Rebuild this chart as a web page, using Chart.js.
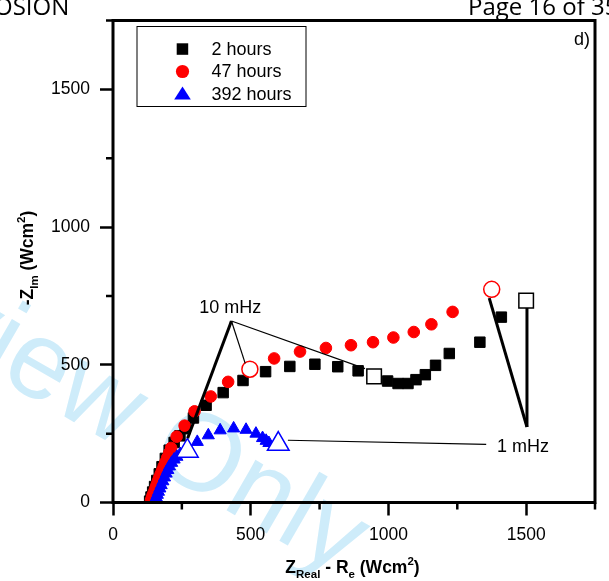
<!DOCTYPE html>
<html>
<head>
<meta charset="utf-8">
<script src="https://cdn.jsdelivr.net/npm/chart.js@4.4.1/dist/chart.umd.min.js"></script>
<style>
  html, body { margin: 0; padding: 0; background: #fff; }
  #wrap { width: 609px; height: 581px; }
</style>
</head>
<body>
<div id="wrap"><canvas id="nyquistChart" width="609" height="581"></canvas></div>
<script>
// axis ticks
const xTickValues = [0, 500, 1000, 1500];
const yTickValues = [0, 500, 1000, 1500];
const minorTickValues = [250, 750, 1250, 1750];

const seriesLabels = ['2 hours', '47 hours', '392 hours'];

// 2 hours (black squares)
const hours2X = [133, 138, 144, 151, 159, 168, 178, 190, 204, 222, 243, 262, 292, 338, 400, 472, 554, 642, 733, 816, 890, 948, 997, 1035, 1071, 1100, 1134, 1171, 1221, 1332, 1410, 1500];
const hours2Y = [5, 20, 38, 58, 80, 104, 130, 160, 190, 218, 242, 268, 307, 353, 399, 443, 475, 494, 502, 493, 478, 458, 441, 432, 432, 446, 464, 498, 541, 582, 673, 733];
const hours2Open = [21, 31];

// 47 hours (red circles)
const hours47X = [138, 141, 144, 148, 152, 156, 160, 164, 168, 173, 178, 184, 190, 197, 204, 211, 231, 260, 296, 355, 418, 497, 585, 679, 773, 864, 944, 1018, 1092, 1156, 1233, 1375];
const hours47Y = [8, 17, 26, 36, 47, 58, 69, 80, 91, 103, 116, 131, 146, 163, 180, 198, 239, 279, 331, 385, 438, 484, 523, 548, 561, 571, 582, 599, 619, 647, 692, 774];
const hours47Open = [21, 31];

// 392 hours (blue triangles)
const hours392X = [150, 153, 157, 161, 165, 170, 175, 181, 187, 193, 199, 205, 213, 222, 232, 244, 270, 306, 346, 389, 438, 483, 519, 543, 556, 566, 600];
const hours392Y = [3, 10, 18, 28, 39, 51, 63, 77, 91, 105, 118, 131, 144, 156, 166, 176, 187, 220, 244, 262, 269, 264, 250, 234, 224, 216, 212];
const hours392Open = [16, 26];

// leader lines for the frequency labels
const leaderTenThickX = [430, 271],   leaderTenThickY = [659, 233];
const leaderTenCircleX = [430, 480],  leaderTenCircleY = [659, 505];
const leaderTenSquareX = [430, 915],  leaderTenSquareY = [659, 486];
const leaderOneTriX = [635, 1355],    leaderOneTriY = [226, 211];
const leaderOneCircleX = [1366, 1503], leaderOneCircleY = [742, 274];
const leaderOneSquareX = [1503, 1503], leaderOneSquareY = [706, 274];

const FONT = '"Liberation Sans", Arial, Helvetica, sans-serif';

function toPoints(xs, ys) {
    return xs.map(function(x, i) { return { x: x, y: ys[i] }; });
}

function markerSeries(label, xs, ys, openIdx, style, color, r, rOpen, order) {
    return {
        label: label,
        data: toPoints(xs, ys),
        showLine: false,
        pointStyle: style,
        pointRadius: xs.map(function(_, i) { return openIdx.includes(i) ? rOpen : r; }),
        pointHoverRadius: xs.map(function(_, i) { return openIdx.includes(i) ? rOpen : r; }),
        pointBackgroundColor: xs.map(function(_, i) { return openIdx.includes(i) ? '#ffffff' : color; }),
        pointBorderColor: color,
        pointBorderWidth: xs.map(function(_, i) { return openIdx.includes(i) ? 1.5 : 1; }),
        clip: 0,
        order: order
    };
}

function leader(xs, ys, width) {
    return {
        label: '',
        data: toPoints(xs, ys),
        showLine: true,
        borderColor: '#000',
        borderWidth: width,
        pointRadius: 0,
        fill: false,
        order: 1
    };
}

// rich text with sub/superscripts
function drawRich(ctx, parts, size, smallSize) {
    const big = 'bold ' + size + 'px ' + FONT;
    const small = 'bold ' + smallSize + 'px ' + FONT;
    let total = 0;
    parts.forEach(function(p) {
        ctx.font = p[1] ? small : big;
        total += ctx.measureText(p[0]).width;
    });
    let x = -total / 2;
    ctx.textAlign = 'left';
    ctx.textBaseline = 'alphabetic';
    parts.forEach(function(p) {
        ctx.font = p[1] ? small : big;
        const dy = p[1] === 1 ? 5 : (p[1] === 2 ? -8 : 0);
        ctx.fillText(p[0], x, dy);
        x += ctx.measureText(p[0]).width;
    });
}

const pagePlugin = {
    id: 'pagePlugin',
    beforeDraw: function(chart) {
        const ctx = chart.ctx;
        ctx.save();
        ctx.fillStyle = '#fff';
        ctx.fillRect(0, 0, chart.width, chart.height);
        // watermark
        ctx.translate(-193, 268);
        ctx.rotate(30 * Math.PI / 180);
        ctx.font = '110px ' + FONT;
        ctx.fillStyle = 'rgb(206,236,250)';
        ctx.textBaseline = 'alphabetic';
        ctx.fillText('Review Only', 0, 0);
        ctx.restore();
    },
    afterDraw: function(chart) {
        const ctx = chart.ctx;
        const a = chart.chartArea;
        const xs = chart.scales.x, ys = chart.scales.y;
        ctx.save();

        // frame
        ctx.strokeStyle = '#000';
        ctx.lineWidth = 3;
        ctx.strokeRect(a.left, a.top, a.right - a.left, a.bottom - a.top);

        // minor ticks
        ctx.lineWidth = 2.5;
        ctx.beginPath();
        minorTickValues.forEach(function(v) {
            const px = xs.getPixelForValue(v);
            ctx.moveTo(px, a.bottom);
            ctx.lineTo(px, a.bottom + 7);
            const py = ys.getPixelForValue(v);
            ctx.moveTo(a.left - 7, py);
            ctx.lineTo(a.left, py);
        });
        ctx.stroke();

        // legend
        ctx.lineWidth = 1;
        ctx.strokeRect(137, 26.5, 169, 80);
        const rows = [49, 71.5, 94];
        ctx.fillStyle = '#000';
        ctx.fillRect(176.7, 43.3, 11.5, 11.5);
        ctx.fillStyle = '#ff0000';
        ctx.beginPath();
        ctx.arc(182.5, 71.5, 6.6, 0, Math.PI * 2);
        ctx.fill();
        ctx.fillStyle = '#0000ff';
        ctx.beginPath();
        ctx.moveTo(182.5, 86.5);
        ctx.lineTo(190.8, 99.5);
        ctx.lineTo(174.2, 99.5);
        ctx.closePath();
        ctx.fill();
        ctx.fillStyle = '#000';
        ctx.font = '18px ' + FONT;
        ctx.textAlign = 'left';
        ctx.textBaseline = 'middle';
        seriesLabels.forEach(function(t, i) { ctx.fillText(t, 211.5, rows[i] + 1); });

        // frequency labels
        ctx.textAlign = 'center';
        ctx.fillText('10 mHz', xs.getPixelForValue(426), ys.getPixelForValue(706));
        ctx.textAlign = 'left';
        ctx.fillText('1 mHz', xs.getPixelForValue(1394), ys.getPixelForValue(203));
        ctx.fillText('d)', 574, 40);

        // axis titles
        ctx.save();
        ctx.translate(352.5, 573);
        drawRich(ctx, [['Z', 0], ['Real', 1], [' - R', 0], ['e', 1], [' (Wcm', 0], ['2', 2], [')', 0]], 17.5, 11.5);
        ctx.restore();
        ctx.save();
        ctx.translate(33, 258);
        ctx.rotate(-Math.PI / 2);
        drawRich(ctx, [['-Z', 0], ['Im', 1], [' (Wcm', 0], ['2', 2], [')', 0]], 17.5, 11.5);
        ctx.restore();

        // page header
        ctx.fillStyle = '#000';
        ctx.font = '24px "Open Sans", ' + FONT;
        ctx.textAlign = 'left';
        ctx.textBaseline = 'alphabetic';
        ctx.fillText('OSION', -6, 15);
        ctx.fillText('Page 16 of 35', 468, 15);

        ctx.restore();
    }
};

function plainLabel(value) {
    return String(value);
}

document.addEventListener('DOMContentLoaded', function() {
    const ctx = document.getElementById('nyquistChart').getContext('2d');

    new Chart(ctx, {
        type: 'scatter',
        data: {
            datasets: [
                leader(leaderTenThickX, leaderTenThickY, 3),
                leader(leaderTenCircleX, leaderTenCircleY, 1.2),
                leader(leaderTenSquareX, leaderTenSquareY, 1.2),
                leader(leaderOneTriX, leaderOneTriY, 1.2),
                leader(leaderOneCircleX, leaderOneCircleY, 3),
                leader(leaderOneSquareX, leaderOneSquareY, 3),
                markerSeries(seriesLabels[2], hours392X, hours392Y, hours392Open, 'triangle', '#0000ff', 7, 12.5, 2),
                markerSeries(seriesLabels[1], hours47X, hours47Y, hours47Open, 'circle', '#ff0000', 5.8, 8, 3),
                markerSeries(seriesLabels[0], hours2X, hours2Y, hours2Open, 'rect', '#000000', 7.4, 10.3, 4)
            ]
        },
        options: {
            responsive: false,
            animation: false,
            layout: {
                padding: { top: 8.5, right: 2, left: 0, bottom: 0 }
            },
            plugins: {
                legend: { display: false },
                tooltip: { enabled: false }
            },
            scales: {
                x: {
                    type: 'linear',
                    min: 0,
                    max: 1750,
                    afterFit: function(s) { s.height = 78.5; },
                    afterBuildTicks: function(s) { s.ticks = xTickValues.map(function(v) { return { value: v }; }); },
                    border: { display: false },
                    grid: { drawOnChartArea: false, drawTicks: true, tickLength: 13, tickWidth: 2.5, tickColor: '#000' },
                    ticks: { color: '#000', padding: 9, maxRotation: 0, callback: plainLabel, font: { family: FONT, size: 17.5 } }
                },
                y: {
                    type: 'linear',
                    min: 0,
                    max: 1750,
                    afterFit: function(s) { s.width = 113; },
                    afterBuildTicks: function(s) { s.ticks = yTickValues.map(function(v) { return { value: v }; }); },
                    border: { display: false },
                    grid: { drawOnChartArea: false, drawTicks: true, tickLength: 13, tickWidth: 2.5, tickColor: '#000' },
                    ticks: { color: '#000', padding: 10, callback: plainLabel, font: { family: FONT, size: 17.5 } }
                }
            }
        },
        plugins: [pagePlugin]
    });
});
</script>
</body>
</html>
